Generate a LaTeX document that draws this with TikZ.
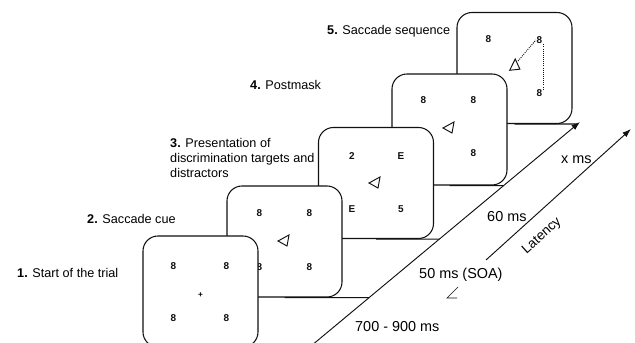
\documentclass[tikz,border=0pt]{standalone}
\usepackage{fontspec}
\setmainfont{Liberation Sans}
\usetikzlibrary{arrows.meta, calc}
\definecolor{InkBlack}{HTML}{111111}
\tikzset{
  screen/.style={draw=InkBlack, line width=0.9pt, rounded corners=0.45cm, fill=white, minimum width=3.45cm, minimum height=3.33cm, inner sep=0pt},
  glyph/.style={font=\fontsize{8.5}{8.5}\selectfont\bfseries, inner sep=0.5pt, text=InkBlack},
  cue/.style={draw=InkBlack, line width=0.8pt, line join=miter},
  steplabel/.style={anchor=west, align=left, inner sep=0pt, font=\fontsize{10.8}{12.8}\selectfont},
  timelabel/.style={anchor=west, inner sep=0pt, font=\fontsize{12.3}{14}\selectfont},
  baseline/.style={draw=InkBlack, line width=0.9pt},
  timearrow/.style={-{Latex[length=2.6mm, width=1.8mm]}, line width=0.8pt, draw=InkBlack},
  trace/.style={draw=InkBlack, line width=0.8pt, densely dotted}
}
\newcommand{\cuetri}[2]{\draw[cue, shift={(#1)}, rotate=#2] (-6,1) -- (5,-5) -- (3,6) -- cycle;}

\begin{document}
\begin{tikzpicture}[x=0.03cm, y=-0.03cm]
\useasboundingbox (0,0) rectangle (635,343);
\coordinate (tl0) at (311,346);
\coordinate (tl1) at (580,122);
\coordinate (lat0) at (486,260);
\coordinate (lat1) at (631,129);
\coordinate (tk0) at (458,287);
\coordinate (tk1) at (447,298);
\coordinate (tk2) at (457,298);

\node[screen] (scr5) at (514.5,68) {};
\draw[baseline] (scr5.south) -- (intersection of scr5.south west--scr5.south east and tl0--tl1);
\node[glyph] (s5a) at ($(scr5)+(-26,-29)$) {8};
\node[glyph] (s5b) at ($(scr5)+(25,-28)$) {8};
\node[glyph] (s5c) at ($(scr5)+(25,25)$) {8};
\coordinate (cue5) at (514,66);
\cuetri{cue5}{35}
\draw[trace] ($(cue5)+(4,-5)$) -- (s5b.west);
\draw[trace] (s5b.south east) -- (s5c.north east);

\node[screen] (scr4) at (449.5,129.5) {};
\draw[baseline] (scr4.south) -- (intersection of scr4.south west--scr4.south east and tl0--tl1);
\node[glyph] (s4a) at ($(scr4)+(-26,-29)$) {8};
\node[glyph] (s4b) at ($(scr4)+(24,-29)$) {8};
\node[glyph] (s4c) at ($(scr4)+(-26,24)$) {8};
\node[glyph] (s4d) at ($(scr4)+(24,24)$) {8};
\coordinate (cue4) at (449,127);
\cuetri{cue4}{0}

\node[screen] (scr3) at (376,183) {};
\draw[baseline] (scr3.south) -- (intersection of scr3.south west--scr3.south east and tl0--tl1);
\node[glyph] (s3a) at ($(scr3)+(-24,-27)$) {2};
\node[glyph] (s3b) at ($(scr3)+(25,-27)$) {E};
\node[glyph] (s3c) at ($(scr3)+(-24,26)$) {E};
\node[glyph] (s3d) at ($(scr3)+(25,26)$) {5};
\coordinate (cue3) at (375,182);
\cuetri{cue3}{0}

\node[screen] (scr2) at (284.5,241.5) {};
\draw[baseline] (scr2.south) -- (intersection of scr2.south west--scr2.south east and tl0--tl1);
\foreach \dx/\dy in {-25/-28, 25/-28, -25/26, 25/26}
  \node[glyph] at ($(scr2)+(\dx,\dy)$) {8};
\coordinate (cue2) at (284,240);
\cuetri{cue2}{0}

\node[screen] (scr1) at (200.5,291.5) {};
\foreach \dx/\dy in {-27/-25, 26/-25, -27/27, 26/27}
  \node[glyph] at ($(scr1)+(\dx,\dy)$) {8};
\node[font=\fontsize{7}{7}\selectfont\bfseries, inner sep=0pt] (fix) at (200.5,295) {+};

\draw[timearrow] (tl0) -- (tl1);
\draw[timearrow] (lat0) -- (lat1);
\draw[InkBlack, line width=0.6pt] (tk0) -- (tk1) -- (tk2);

\node[steplabel] (lab1) at (17,273) {\textbf{1.} Start of the trial};
\node[steplabel] (lab2) at (87,219) {\textbf{2.} Saccade cue};
\node[steplabel] (lab3) at (170,158) {\textbf{3.} Presentation of\\discrimination targets and\\distractors};
\node[steplabel] (lab4) at (250,85) {\textbf{4.} Postmask};
\node[steplabel] (lab5) at (327,31) {\textbf{5.} Saccade sequence};

\node[timelabel] (txms) at (561,160) {x ms};
\node[timelabel] (t60) at (487,217) {60 ms};
\node[timelabel] (tsoa) at (419,275) {50 ms (SOA)};
\node[timelabel] (tfix) at (355,327) {700 - 900 ms};
\node[font=\fontsize{11.5}{12}\selectfont, rotate=42, inner sep=0pt] (tlat) at (542,236) {Latency};
\end{tikzpicture}
\end{document}
